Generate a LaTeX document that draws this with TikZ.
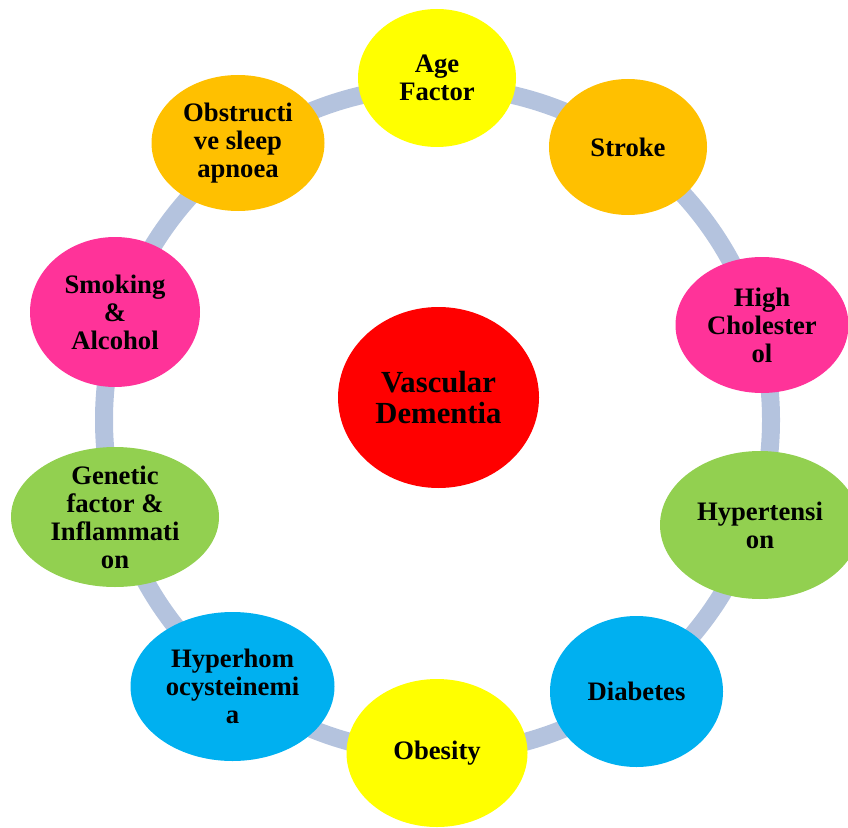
\documentclass[tikz,border=0pt]{standalone}
\usepackage{fontspec}
\setmainfont{Liberation Serif}
\usetikzlibrary{positioning,shapes.geometric}
\definecolor{ringblue}{HTML}{B4C3DE}
\definecolor{riskyellow}{HTML}{FFFF00}
\definecolor{riskorange}{HTML}{FFC000}
\definecolor{riskpink}{HTML}{FF3399}
\definecolor{riskgreen}{HTML}{92D050}
\definecolor{riskblue}{HTML}{00B0F0}
\definecolor{riskred}{HTML}{FF0000}

\tikzset{
  risk/.style args={#1 and #2}{ellipse, draw=none, inner sep=0pt,
    minimum width=#1*1.5pt, minimum height=#2*1.5pt},
  txt/.style={align=center, inner sep=0pt,
    font=\bfseries\fontsize{20}{21}\selectfont},
  bigtxt/.style={align=center, inner sep=0pt,
    font=\bfseries\fontsize{23}{23.5}\selectfont}
}

\begin{document}
\begin{tikzpicture}[x=0.75pt,y=-0.75pt]

\newcommand{\ringr}{333.5}

\clip (0,0) rectangle (848,827);

% ring behind the factors
\coordinate (mid) at (437.5,420);
\draw[ringblue, line width=13.5pt] (mid) circle[radius=\ringr];

\node[risk={100.5 and 90.5}, fill=riskred,
  label={[bigtxt]center:{Vascular\\Dementia}}] (vd) at (438.5,397.5) {};

\node[risk={79 and 69}, fill=riskyellow,
  label={[txt]center:{Age\\Factor}}] (age) at (437,78) {};
\node[risk={79 and 68}, fill=riskorange,
  label={[txt]center:{Stroke}}] (stroke) at (628,147) {};
\node[risk={86.5 and 68}, fill=riskpink,
  label={[txt]center:{High\\Cholester\\ol}}] (chol) at (762,325) {};
\node[risk={100 and 74}, fill=riskgreen,
  label={[txt]center:{Hypertensi\\on}}] (hyper) at (760,525) {};
\node[risk={86.5 and 75.5}, fill=riskblue,
  label={[txt]center:{Diabetes}}] (diab) at (636.5,691.5) {};
\node[risk={90.5 and 74}, fill=riskyellow,
  label={[txt]center:{Obesity}}] (obes) at (437,753) {};
\node[risk={102 and 74.5}, fill=riskblue,
  label={[txt]center:{Hyperhom\\ocysteinemi\\a}}] (homo) at (232.5,686.5) {};
\node[risk={104 and 70}, fill=riskgreen,
  label={[txt]center:{Genetic\\factor \&\\Inflammati\\on}}] (gene) at (115,517) {};
\node[risk={85 and 75}, fill=riskpink,
  label={[txt]center:{Smoking\\\&\\Alcohol}}] (smok) at (115,312) {};
\node[risk={86.5 and 68}, fill=riskorange,
  label={[txt]center:{Obstructi\\ve sleep\\apnoea}}] (osa) at (238,143) {};

\end{tikzpicture}
\end{document}
